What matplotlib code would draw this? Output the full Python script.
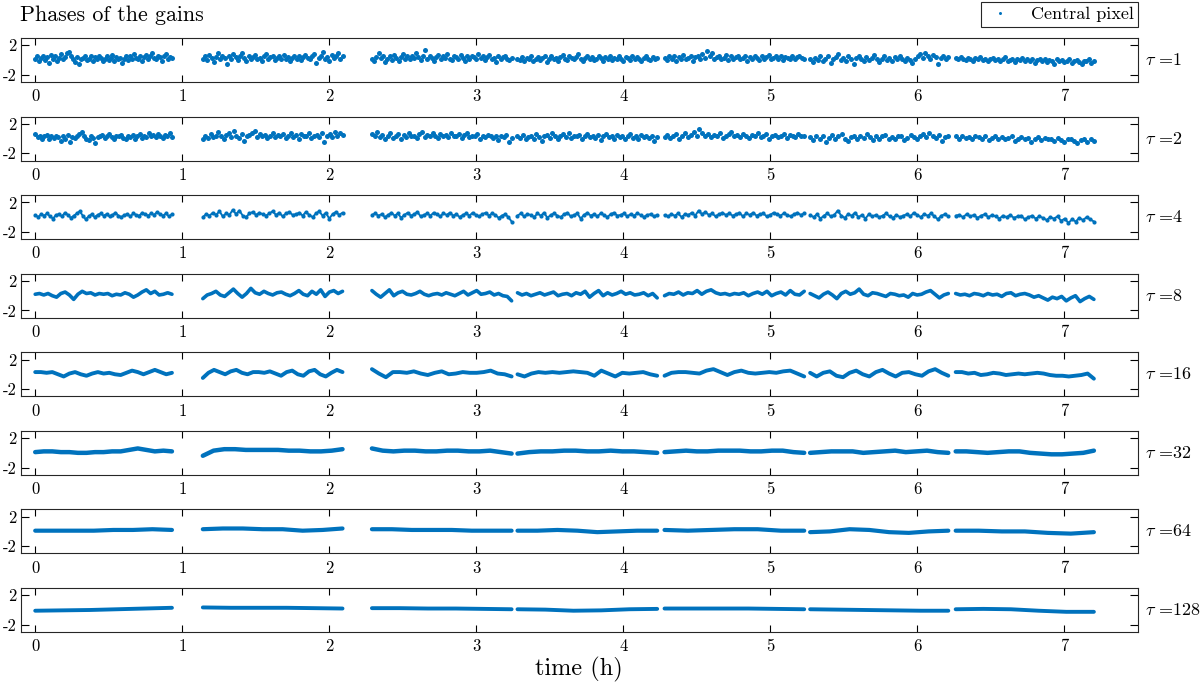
import numpy as np
import matplotlib
matplotlib.use("Agg")
import matplotlib.pyplot as plt

plt.rcParams['font.family'] = 'serif'
plt.rcParams['font.serif'] = ['cmr10', 'DejaVu Serif']
plt.rcParams['mathtext.fontset'] = 'cm'
plt.rcParams['axes.formatter.use_mathtext'] = True

# ---------------- data ----------------
taus = [1, 2, 4, 8, 16, 32, 64, 128]
seg_start = [0.0, 1.14, 2.29, 3.28, 4.28, 5.27, 6.26]
seg_end = [0.93, 2.09, 3.24, 4.23, 5.23, 6.21, 7.20]
xticks = [0, 1, 2, 3, 4, 5, 6, 7]
yticks = [-2, 2]
ytick_labels = ['-2', '2']

tau1 = [
 [0.1,0.5,-0.2,0.3,0.6,0.0,0.4,-0.4,0.7,0.2,0.5,-0.1,0.3,0.8,0.1,0.4,0.9,1.1,0.5,0.2,-0.3,0.4,-0.6,0.1,0.3,0.6,0.0,0.2,0.5,-0.2,0.4,0.1,0.6,0.3,-0.1,0.2,0.5,0.0,0.3,0.7,-0.2,0.4,0.1,0.3,-0.4,0.2,0.6,0.0,0.5,0.2,0.8,0.3,0.1,0.6,-0.1,0.4,0.7,0.2,0.5,1.0,0.3,0.1,0.6,0.4,-0.2,0.5,0.8,0.2,0.4,0.3],
 [0.2,0.5,0.0,0.7,0.3,-0.3,0.4,0.9,0.1,0.5,0.3,-0.5,0.6,0.2,0.8,0.4,0.0,0.5,1.0,0.3,-0.2,0.6,0.2,0.4,0.7,0.1,0.3,-0.1,0.5,0.8,0.2,0.4,0.6,0.0,0.3,0.5,0.2,0.7,0.1,0.4,-0.2,0.3,0.6,0.2,0.5,0.0,0.4,0.7,0.3,0.1,0.5,0.8,-0.4,0.3,0.6,1.1,0.2,0.4,-0.1,0.7,0.3,0.5,1.0,0.2,0.6],
 [0.1,-0.2,0.4,1.0,0.3,0.6,-0.3,0.2,0.5,0.0,0.7,0.3,-0.1,0.4,0.8,0.2,0.5,0.1,0.6,0.3,0.9,0.4,0.0,0.5,1.4,0.2,0.6,0.3,-0.2,0.4,0.7,0.1,0.5,0.3,0.8,0.2,0.0,0.6,0.4,0.2,0.7,0.3,-0.1,0.5,0.2,0.6,0.4,0.1,0.8,0.3,0.5,0.0,0.4,0.7,0.2,0.3,-0.3,0.5,0.1,0.4,0.6,0.2,0.0,0.3],
 [0.2,0.0,0.4,-0.2,0.3,0.1,0.5,-0.1,0.2,0.4,0.0,0.3,0.6,-0.3,0.2,0.5,0.1,0.3,-0.1,0.4,0.7,0.2,0.0,0.5,0.3,0.1,0.4,0.8,0.2,-0.2,0.3,0.6,0.1,0.4,0.0,0.2,0.5,0.3,-0.1,0.4,0.2,0.6,0.0,0.3,0.1,0.5,0.2,-0.2,0.4,0.3,0.0,0.6,0.2,0.4,0.1,-0.1,0.3,0.5,0.2,0.0,0.4,0.1,0.3],
 [0.3,0.0,0.5,0.2,0.6,-0.1,0.4,0.2,0.7,0.1,0.3,0.5,-0.2,0.4,0.6,0.2,0.8,0.3,1.2,0.5,0.9,0.1,0.4,0.6,0.2,0.3,0.7,0.0,0.5,0.2,0.4,0.6,0.1,0.3,0.5,-0.1,0.4,0.2,0.6,0.3,0.0,0.5,0.2,0.4,0.7,0.1,0.3,0.5,0.2,0.6,0.0,0.4,0.3,0.2,0.5,0.1,0.4,0.6,0.3,0.2],
 [0.1,-0.3,0.3,0.0,0.5,-0.2,0.2,0.6,-0.4,0.1,0.4,0.8,0.0,0.3,-0.1,0.5,0.2,-0.5,0.3,0.6,0.1,-0.2,0.4,0.0,0.3,0.7,0.1,-0.3,0.2,0.5,0.0,0.3,-0.1,0.4,0.1,0.6,0.2,-0.2,0.3,0.0,-0.4,0.1,0.5,0.8,0.3,1.0,0.6,0.2,0.7,0.4,-0.6,0.3,0.5,0.1,0.4],
 [0.3,0.1,0.4,0.2,0.0,0.3,0.2,-0.1,0.3,0.1,0.4,0.0,0.2,-0.2,0.1,0.3,0.0,0.2,-0.1,0.1,0.4,-0.2,0.0,0.2,-0.3,0.1,0.0,0.3,-0.2,0.1,-0.1,0.2,-0.4,0.0,0.1,-0.2,0.2,-0.3,0.0,-0.1,-0.5,0.1,-0.2,0.0,-0.3,-0.1,0.2,-0.4,-0.2,0.0,-0.3,-0.6,-0.1,-0.2,0.1,-0.4,-0.2],
]
tau2 = [
 [0.6,0.2,0.4,0.0,0.3,0.5,-0.1,0.3,0.1,0.4,0.2,-0.3,0.3,0.0,0.5,-0.5,0.2,0.1,0.3,0.6,0.9,0.4,0.0,-0.2,0.3,0.1,-0.6,0.2,0.4,0.5,0.1,0.3,0.6,0.2,0.0,0.4,0.3,0.5,0.1,-0.1,0.3,0.2,0.5,0.0,0.3,0.6,0.1,0.4,0.2,0.7,0.3,0.5,0.2,0.6,0.4,0.1,0.5,0.3,0.7,0.2],
 [-0.1,0.3,0.1,0.6,0.2,0.4,0.9,0.3,0.0,0.5,0.7,0.2,1.0,0.4,0.1,0.6,-0.3,0.3,0.5,0.8,1.1,0.2,0.6,0.3,0.5,0.1,0.4,0.7,0.2,0.5,0.3,0.6,0.1,0.4,0.8,0.2,0.5,0.0,0.6,0.3,0.4,0.7,0.1,0.3,0.5,0.2,0.8,-0.4,0.4,0.6,0.2,0.9,0.3,0.7,0.5],
 [0.6,0.3,0.9,0.2,0.5,-0.1,0.4,0.7,0.1,0.3,0.6,0.0,0.5,0.2,0.8,0.3,0.4,0.1,0.6,0.9,0.2,0.5,0.3,0.7,0.4,0.1,0.6,0.3,0.5,0.2,0.7,0.4,0.3,0.6,0.1,0.5,0.8,0.2,0.4,0.3,0.6,0.0,0.4,0.2,0.5,0.3,0.1,0.4,-0.2,0.3,0.2,0.5,-0.4,0.1],
 [0.3,0.1,0.5,-0.1,0.2,0.4,0.0,0.6,0.2,-0.3,0.3,0.5,0.1,0.7,0.3,0.0,0.4,0.6,0.2,0.8,0.1,0.4,0.3,0.5,0.0,0.3,0.6,0.2,0.4,0.1,0.5,-0.2,0.3,0.6,0.2,0.4,0.0,0.5,0.2,0.3,-0.1,0.4,0.6,0.1,0.3,0.0,0.5,0.2,0.4,0.1,0.3,-0.3,0.2],
 [0.2,0.5,0.1,0.3,0.6,0.0,0.4,0.7,0.2,0.5,0.9,0.3,1.3,0.8,0.4,0.6,0.2,0.5,0.3,0.7,0.1,0.4,0.6,0.9,0.3,0.5,0.2,0.6,0.4,0.1,0.5,0.3,0.7,0.2,0.4,0.6,0.0,0.3,0.5,0.2,0.4,0.6,0.1,0.5,0.3,0.2,0.6,0.4,0.3],
 [0.2,-0.2,0.4,0.0,0.3,-0.5,0.1,0.5,-0.1,0.3,0.6,0.0,-0.3,0.2,0.4,-0.1,0.3,0.1,0.6,0.2,-0.2,0.4,0.0,0.3,0.5,-0.1,0.2,0.0,0.4,0.3,-0.2,0.1,0.5,0.2,0.0,0.4,0.6,0.2,0.8,0.4,0.1,0.5,-0.3,0.2,0.4],
 [0.3,0.0,0.4,0.1,0.2,-0.1,0.3,0.2,0.0,0.4,-0.2,0.1,0.3,0.0,0.2,-0.1,0.1,0.3,-0.3,0.0,0.2,-0.1,0.1,-0.4,0.0,0.2,-0.2,0.1,-0.1,0.0,-0.3,0.1,-0.2,-0.5,-0.1,0.0,-0.3,-0.6,-0.2,0.0,-0.4,-0.1,-0.3],
]
tau4 = [
 [0.3,0.0,0.4,0.2,0.5,0.1,-0.2,0.3,0.4,0.1,0.6,0.3,-0.1,0.2,0.5,0.8,0.2,-0.3,0.1,0.4,0.0,0.3,0.5,0.2,0.4,0.1,0.3,0.6,0.2,0.0,0.3,0.4,0.1,0.5,0.3,0.2,0.6,0.4,0.2,0.5,0.3,0.7,0.4,0.2,0.5,0.1,0.4],
 [0.0,0.4,0.2,0.6,0.3,0.8,0.1,0.5,0.3,1.0,0.4,0.9,0.2,0.0,0.5,0.7,0.3,0.6,0.4,0.2,0.5,0.8,0.3,0.6,0.1,0.5,0.7,0.3,0.4,0.6,0.2,0.7,0.3,0.0,0.5,0.8,0.2,0.6,-0.2,0.4,0.7,0.3,0.6],
 [0.3,0.5,0.2,0.4,0.0,0.3,0.6,0.2,0.5,-0.1,0.3,0.6,0.2,0.4,0.7,0.1,0.3,0.5,0.2,0.6,0.4,0.1,0.5,0.3,0.6,0.2,0.4,0.0,0.3,0.5,0.2,0.6,0.3,0.1,0.4,0.6,0.2,0.5,0.3,-0.1,0.2,0.4,0.0,-0.6],
 [0.2,0.5,0.1,0.4,0.3,0.0,0.5,0.2,0.6,-0.1,0.3,0.5,0.2,0.0,0.4,0.6,0.1,0.3,0.5,-0.2,0.3,0.6,0.2,0.4,0.1,0.5,0.3,0.0,0.4,0.6,0.2,0.3,0.5,0.1,0.4,0.2,0.5,0.3,0.0,0.3,0.4,0.1,0.3],
 [0.3,0.1,0.4,0.2,0.5,0.0,0.4,0.3,0.6,0.2,0.9,0.4,0.7,0.3,0.5,0.1,0.4,0.6,0.3,0.5,0.2,0.4,0.6,0.1,0.5,0.3,0.6,0.2,0.4,0.5,0.1,0.3,0.6,0.4,0.2,0.5,0.3,0.1,0.4,0.6,0.3,0.5],
 [0.3,0.0,0.4,-0.2,0.2,0.5,0.1,0.3,0.9,0.2,-0.1,0.4,0.2,0.6,0.0,0.3,-0.2,0.4,0.1,0.3,0.0,0.2,0.5,0.1,-0.1,0.3,0.0,0.2,0.4,0.1,0.6,0.3,0.0,0.4,0.2,0.5,0.1,-0.3,0.2,0.4,0.1],
 [0.2,0.3,0.0,0.4,0.1,0.3,-0.1,0.2,0.4,0.0,0.3,0.1,-0.2,0.2,0.0,0.3,-0.1,0.1,0.2,-0.3,0.0,0.2,-0.2,0.1,-0.1,-0.4,0.0,-0.2,0.1,-0.5,-0.2,-0.8,-0.3,-0.6,-0.1,-0.4,0.0,-0.3,-0.6],
]
tau8 = [
 [0.2,0.3,0.1,0.3,0.0,-0.2,0.3,0.5,0.1,-0.5,0.2,0.6,0.3,0.4,0.1,0.3,0.2,0.3,0.0,0.2,0.1,0.4,0.2,-0.2,0.1,0.5,0.8,0.3,0.6,0.1,0.2,0.4,0.2],
 [-0.4,0.1,0.3,0.6,0.1,-0.1,0.4,0.9,0.3,-0.2,0.3,1.0,0.4,0.2,0.6,0.3,0.1,0.4,0.5,0.2,0.0,0.3,0.7,0.2,0.0,0.6,0.2,0.8,-0.1,0.5,0.7,0.3,0.6],
 [0.7,0.2,-0.2,0.3,0.8,0.0,0.4,0.6,0.2,0.1,0.3,0.6,0.2,0.0,0.2,0.3,0.1,0.4,0.2,0.0,0.3,0.6,0.1,0.4,0.7,0.2,0.3,0.5,0.1,0.3,0.0,-0.1,-0.7],
 [0.4,0.1,0.3,0.0,0.2,0.4,0.1,0.3,0.5,0.0,0.2,0.3,0.0,0.4,0.2,0.6,-0.2,0.3,0.7,0.0,0.4,0.1,0.3,0.6,0.2,0.4,0.1,0.2,0.4,0.0,0.3,-0.3],
 [0.0,0.3,0.2,0.5,0.1,0.4,0.3,0.7,0.2,0.6,0.8,0.4,0.2,0.3,0.1,0.3,0.2,0.4,0.0,0.3,0.5,0.2,0.6,0.0,0.3,0.5,0.1,0.7,0.2,0.1,0.6],
 [0.3,0.0,-0.3,0.2,0.5,0.1,-0.4,0.3,0.6,0.2,0.4,0.9,0.2,0.0,0.4,0.3,0.1,-0.1,0.3,0.2,0.0,0.1,-0.2,0.3,0.1,0.2,0.5,0.7,0.2,-0.3,0.1,0.3],
 [0.3,0.1,0.2,0.0,0.3,0.2,0.0,0.3,0.1,0.2,-0.1,0.3,0.4,0.0,0.2,0.3,0.1,-0.2,0.0,-0.3,-0.6,-0.2,-0.4,-0.1,-0.7,-0.3,0.0,-0.8,-0.4,-0.1,-0.5],
]
tau16 = [
 [0.3,0.3,0.2,0.3,0.0,-0.3,0.1,0.3,0.0,-0.2,0.1,0.3,0.1,0.2,0.0,-0.1,0.2,0.5,0.3,0.0,0.3,0.6,0.3,0.0,0.2],
 [-0.5,0.2,0.6,0.3,0.0,0.4,0.6,0.2,0.0,0.3,0.3,0.2,0.4,0.1,-0.2,0.3,0.5,0.0,-0.2,0.4,0.6,0.0,-0.3,0.2,0.6,0.3],
 [0.7,0.1,-0.4,0.3,0.3,0.2,0.4,0.1,-0.1,0.2,0.4,0.0,0.1,0.3,0.2,0.2,0.3,0.5,0.1,0.0,-0.3],
 [0.0,-0.3,0.1,0.3,0.2,0.3,0.2,0.3,0.4,0.3,0.2,-0.2,0.5,0.1,-0.3,0.2,0.1,0.2,0.3,0.0,-0.2],
 [-0.2,0.2,0.3,0.3,0.2,0.1,0.5,0.7,0.3,-0.1,0.3,0.5,0.2,0.1,0.2,0.3,0.2,0.4,0.5,0.1,-0.3],
 [0.2,-0.3,0.2,0.4,-0.2,-0.4,0.2,0.5,0.0,-0.3,0.3,0.6,0.1,-0.3,0.2,0.3,0.0,-0.2,0.4,0.7,0.2,-0.2],
 [0.3,0.3,0.1,0.2,-0.1,0.0,0.2,0.1,-0.1,0.0,0.1,0.0,0.1,0.2,0.1,-0.1,-0.2,-0.2,-0.3,-0.2,-0.1,0.1,-0.6],
]
tau32 = [
 [0.1,0.2,0.2,0.1,0.1,0.0,0.0,0.1,0.1,0.2,0.2,0.4,0.6,0.4,0.2,0.3,0.2],
 [-0.4,0.3,0.5,0.5,0.4,0.4,0.4,0.4,0.3,0.3,0.2,0.2,0.3,0.5],
 [0.6,0.3,0.2,0.3,0.3,0.2,0.2,0.3,0.3,0.2,0.2,0.3,0.1,-0.1],
 [-0.1,0.1,0.2,0.2,0.3,0.3,0.2,0.2,0.3,0.2,0.2,0.1,0.0],
 [0.1,0.2,0.3,0.2,0.2,0.3,0.3,0.3,0.2,0.2,0.3,0.3,0.1,0.0],
 [0.0,0.1,0.2,0.2,0.2,0.0,0.1,0.2,0.3,0.1,0.2,0.3,0.1,0.0],
 [0.2,0.2,0.1,0.0,0.1,0.2,0.2,0.0,-0.1,-0.2,-0.2,-0.1,0.0,0.3],
]
tau64 = [
 [0.1,0.1,0.1,0.1,0.2,0.2,0.3,0.2],
 [0.3,0.4,0.4,0.3,0.3,0.1,0.2,0.4],
 [0.3,0.3,0.2,0.2,0.2,0.1,0.1,0.1],
 [0.1,0.1,0.2,0.1,-0.1,0.0,0.1,0.1],
 [0.2,0.1,0.2,0.3,0.3,0.1,0.1],
 [-0.1,0.0,0.3,0.2,-0.1,-0.2,0.0,0.1],
 [0.1,0.1,0.0,0.0,-0.2,-0.3,-0.1],
]
tau128 = [
 [-0.1,-0.05,0.0,0.1,0.2,0.3],
 [0.35,0.3,0.3,0.3,0.25,0.2],
 [0.25,0.25,0.2,0.2,0.15,0.1],
 [0.1,0.05,-0.1,-0.05,0.1,0.15],
 [0.2,0.2,0.2,0.2,0.15,0.1],
 [0.1,0.05,0.0,-0.05,-0.1,-0.1],
 [0.1,0.15,0.1,-0.1,-0.25,-0.25],
]
panels = [tau1, tau2, tau4, tau8, tau16, tau32, tau64, tau128]

# ---------------- styling ----------------
BLUE = '#0072BD'
W, H = 1201, 687
fig = plt.figure(figsize=(W/100, H/100), dpi=100)

ax_left, ax_right = 20.5, 1138
ax_top0, ax_h, ax_step = 38, 44, 78.57

styles = {
    1: dict(ls='none', marker='o', ms=3.6, lw=0),
    2: dict(ls='none', marker='o', ms=3.6, lw=0),
    4: dict(ls='-', marker='o', ms=3.0, lw=1.4),
    8: dict(ls='-', marker=None, ms=0, lw=2.6),
    16: dict(ls='-', marker=None, ms=0, lw=2.8),
    32: dict(ls='-', marker=None, ms=0, lw=3.2),
    64: dict(ls='-', marker=None, ms=0, lw=3.0),
    128: dict(ls='-', marker=None, ms=0, lw=2.8),
}

axes = []
for k, (tau, segs) in enumerate(zip(taus, panels)):
    top = ax_top0 + ax_step * k
    ax = fig.add_axes([ax_left / W, 1 - (top + ax_h) / H,
                       (ax_right - ax_left) / W, ax_h / H])
    st = styles[tau]
    for s0, s1, vals in zip(seg_start, seg_end, segs):
        t = np.linspace(s0, s1, len(vals))
        line, = ax.plot(t, vals, color=BLUE, linestyle=st['ls'],
                        linewidth=st['lw'], marker=st['marker'],
                        markersize=st['ms'], markeredgewidth=0,
                        solid_capstyle='round', solid_joinstyle='round')
        if k == 0 and s0 == seg_start[0]:
            leg_handle = line
    ax.set_xlim(-0.1, 7.5)
    ax.set_ylim(-3, 3)
    ax.set_xticks(xticks)
    ax.set_yticks(yticks)
    ax.set_yticklabels(ytick_labels)
    ax.set_xticklabels([str(v) for v in xticks])
    ax.tick_params(axis='x', direction='in', length=5.2, width=0.8,
                   top=True, bottom=True, labelsize=12, pad=5)
    ax.tick_params(axis='y', direction='in', length=5.5, width=0.8,
                   left=True, right=True, labelsize=12, pad=3)
    for sp in ax.spines.values():
        sp.set_linewidth(0.8)
        sp.set_color('#262626')
    ax.text(1.006, 0.5, r'$\tau$ =' + str(tau), transform=ax.transAxes,
            ha='left', va='center', fontsize=13)
    axes.append(ax)

axes[-1].set_xlabel('time (h)', fontsize=17.5, labelpad=2)

fig.text(ax_left / W, 1 - 21 / H, 'Phases of the gains', fontsize=15.8,
         ha='left', va='baseline')

leg = axes[0].legend([leg_handle], ['Central pixel'], loc='lower right',
                     bbox_to_anchor=(1.0, 1.0 + 11 / 44), bbox_transform=axes[0].transAxes,
                     frameon=True, fancybox=False, framealpha=1,
                     edgecolor='#262626', fontsize=13, borderpad=0.25,
                     handlelength=1.6, handletextpad=0.9, markerscale=0.6,
                     borderaxespad=0.0)
leg.get_frame().set_linewidth(0.8)

fig.savefig('out.png', dpi=100)
